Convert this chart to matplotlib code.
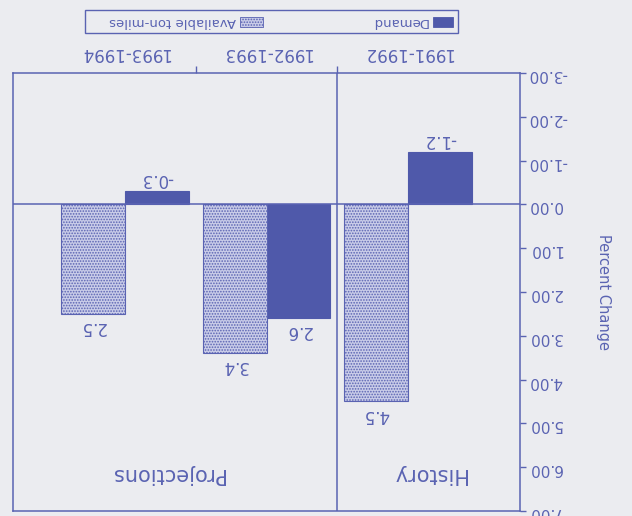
import matplotlib
matplotlib.use("Agg")
import matplotlib.pyplot as plt
import matplotlib.patches as mpatches
import numpy as np

plt.rcParams["font.family"] = ["DejaVu Sans"]
plt.rcParams["axes.unicode_minus"] = False
plt.rcParams["hatch.linewidth"] = 0.8

# data (picture is printed upside down, so the chart is drawn rotated 180 degrees)
periods = ["1991-1992", "1992-1993", "1993-1994"]
demand = [-1.2, 2.6, -0.3]
available = [4.5, 3.4, 2.5]
yticks = [-3, -2, -1, 0, 1, 2, 3, 4, 5, 6, 7]
sections = ["History", "Projections"]

INK = "#5a63b2"
DARK = "#4f59aa"
LIGHT = "#c9cce8"
BG = "#ebecf0"

fig = plt.figure(figsize=(6.32, 5.16), dpi=100, facecolor=BG)
ax = fig.add_axes([0.0206, 0.0097, 0.8022, 0.8488])
ax.set_facecolor(BG)

x = np.arange(len(periods))
w = 0.45
ax.bar(x - w / 2, demand, w, color=DARK, edgecolor=DARK, lw=0.8)
ax.bar(x + w / 2, available, w, color=LIGHT, edgecolor=INK,
       hatch="......", lw=0.8)

for xi, d, a in zip(x, demand, available):
    for xx, v in ((xi - w / 2, d), (xi + w / 2, a)):
        off = 0.3 if v > 0 else -0.27
        ax.text(xx, v + off, f"{v:g}", rotation=180, ha="center", va="center",
                fontsize=12, color=INK)

ax.axhline(0, color=INK, lw=1.1)
ax.axvline(0.5, color=INK, lw=1.1)

ax.text(-0.145, 6.15, sections[0], rotation=180, ha="center", va="center",
        fontsize=15, color=INK)
ax.text(1.7, 6.15, sections[1], rotation=180, ha="center", va="center",
        fontsize=15, color=INK)

ax.set_xlim(2.79, -0.79)
ax.set_ylim(7, -3)

ax.yaxis.tick_right()
ax.set_yticks(yticks)
ax.set_yticklabels([f"{v:.2f}" for v in yticks])
ax.tick_params(axis="y", direction="out", length=4, width=1, colors=INK,
               labelcolor=INK, labelsize=11, labelrotation=180, pad=2)

ax.xaxis.tick_top()
ax.set_xticks(x)
ax.set_xticklabels(periods)
ax.set_xticks([0.5, 1.5], minor=True)
ax.tick_params(axis="x", which="major", length=0, labelsize=12,
               labelcolor=INK, labelrotation=180, pad=8)
ax.tick_params(axis="x", which="minor", direction="out", length=5, width=1,
               colors=INK)

for sp in ax.spines.values():
    sp.set_color(INK)
    sp.set_linewidth(1.1)

fig.text(0.955, 0.434, "Percent Change", rotation=270, ha="center",
         va="center", fontsize=10.5, color=INK)

# legend box, drawn by hand so it can sit upside down like the rest
fig.add_artist(mpatches.Rectangle((0.1345, 0.936), 0.5902, 0.0446,
                                  transform=fig.transFigure, fill=False,
                                  ec=INK, lw=1.0))
fig.add_artist(mpatches.Rectangle((0.685, 0.948), 0.032, 0.02,
                                  transform=fig.transFigure, fc=DARK,
                                  ec=DARK, lw=0.6))
fig.text(0.677, 0.958, "Demand", rotation=180, ha="right", va="center",
         fontsize=9.5, color=INK)
fig.add_artist(mpatches.Rectangle((0.38, 0.948), 0.036, 0.02,
                                  transform=fig.transFigure, fc=LIGHT,
                                  ec=INK, hatch="......", lw=0.6))
fig.text(0.374, 0.958, "Available ton-miles", rotation=180, ha="right",
         va="center", fontsize=9.5, color=INK)

fig.savefig("out.png", dpi=100, facecolor=BG)
